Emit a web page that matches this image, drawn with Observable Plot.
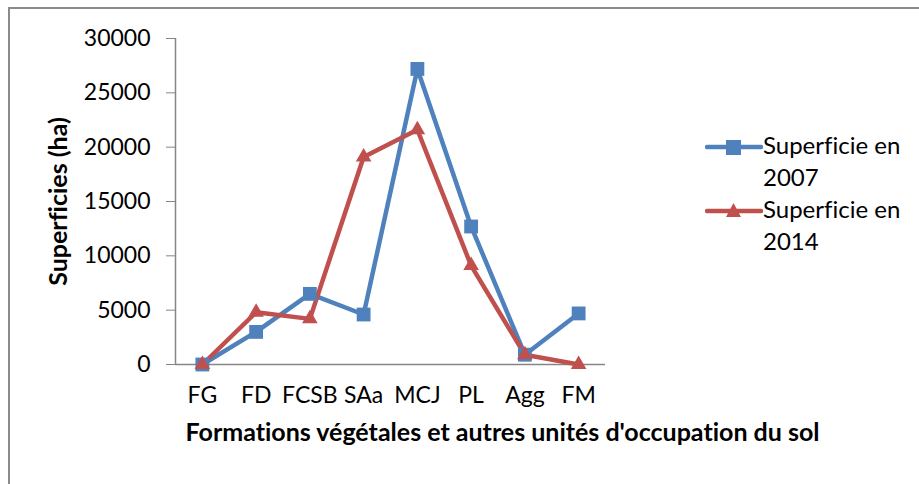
<!DOCTYPE html>
<html>
<head>
<meta charset="utf-8">
<script src="https://cdn.jsdelivr.net/npm/d3@7"></script>
<script src="https://cdn.jsdelivr.net/npm/@observablehq/plot@0.6"></script>
<style>
  body { margin: 0; background: #fff; }
  #wrap { position: relative; width: 919px; height: 484px; overflow: hidden; font-family: Lato, "Open Sans", sans-serif; font-variant-ligatures: none; }
  #wrap svg text { font-variant-ligatures: none; }
  #border { position: absolute; left: 8px; top: 7px; width: 1000px; height: 600px; border-left: 2px solid #8a8a8a; border-top: 2px solid #8a8a8a; }
  #chart { position: absolute; left: 0; top: 0; }
  #legend { position: absolute; left: 705px; top: 129px; font-size: 24px; line-height: 32px; color: #000; }
  .item { display: flex; align-items: flex-start; }
  .item svg { flex: none; margin-top: 5px; }
</style>
</head>
<body>
<div id="wrap">
  <div id="border"></div>
  <div id="chart"></div>
  <div id="legend"></div>
</div>
<script>
const categories = ["FG", "FD", "FCSB", "SAa", "MCJ", "PL", "Agg", "FM"];
const superficie2007 = [0, 3000, 6500, 4600, 27200, 12700, 900, 4700];
const superficie2014 = [0, 4800, 4200, 19100, 21600, 9100, 900, 0];
const seriesNames = ["Superficie en 2007", "Superficie en 2014"];
const yTicks = [0, 5000, 10000, 15000, 20000, 25000, 30000];
const colors = ["#4F81BD", "#C0504D"];
const symbols = ["square", "triangle"];

const data = [];
[superficie2007, superficie2014].forEach((vals, s) => {
  vals.forEach((v, i) => data.push({ idx: i, cat: categories[i], value: v, series: seriesNames[s] }));
});

const chart = Plot.plot({
  width: 919,
  height: 484,
  marginLeft: 175,
  marginRight: 314,
  marginTop: 38,
  marginBottom: 120,
  style: { fontFamily: "Lato, 'Open Sans', sans-serif", fontSize: "23px", background: "transparent", overflow: "visible" },
  x: { type: "linear", domain: [-0.5, categories.length - 0.5] },
  y: { domain: [0, 30000] },
  color: { domain: seriesNames, range: colors },
  symbol: { domain: seriesNames, range: symbols },
  marks: [
    Plot.ruleX([-0.5], { stroke: "#868686", strokeWidth: 1.5 }),
    Plot.ruleY([0], { stroke: "#868686", strokeWidth: 1.5 }),
    Plot.axisY({ ticks: yTicks, tickSize: 9, tickPadding: 16, stroke: "#868686", fill: "#000", tickFormat: d => String(d), label: null, fontSize: 23 }),
    Plot.axisX({ ticks: d3.range(categories.length), tickSize: 0, tickPadding: 22, fill: "#000", tickFormat: i => categories[i], label: null, fontSize: 23 }),
    Plot.text(["Superficies (ha)"], { frameAnchor: "left", textAnchor: "middle", rotate: -90, dx: -117, fontWeight: "bold", fontSize: 25, fill: "#000" }),
    Plot.text(["Formations végétales et autres unités d'occupation du sol"], { frameAnchor: "bottom", dy: 76, dx: 112, fontWeight: "bold", fontSize: 25, fill: "#000" }),
    Plot.line(data, { x: "idx", y: "value", z: "series", stroke: "series", strokeWidth: 4.5, strokeLinejoin: "round" }),
    Plot.dot(data.filter(d => d.series === seriesNames[0]), { x: "idx", y: "value", symbol: "series", fill: "series", stroke: "none", r: 7.8 }),
    Plot.dot(data.filter(d => d.series === seriesNames[1]), { x: "idx", y: "value", symbol: "series", fill: "series", stroke: "none", r: 5.8 })
  ]
});
document.getElementById("chart").appendChild(chart);

const legend = document.getElementById("legend");
seriesNames.forEach((name, s) => {
  const row = document.createElement("div");
  row.className = "item";
  const marker = s === 0
    ? `<rect x="21" y="6" width="15" height="15" fill="${colors[s]}"/>`
    : `<path d="M28.5,5 L36,19 L21,19 Z" fill="${colors[s]}"/>`;
  row.innerHTML = `<svg width="58" height="26"><line x1="2" y1="13" x2="56" y2="13" stroke="${colors[s]}" stroke-width="4.5" stroke-linecap="round"/>${marker}</svg><div>${name.replace(/ (\d+)$/, "<br>$1")}</div>`;
  legend.appendChild(row);
});
</script>
</body>
</html>
